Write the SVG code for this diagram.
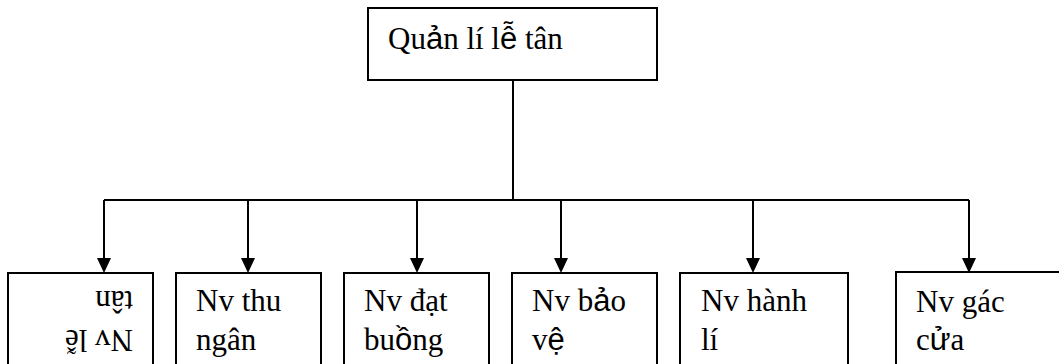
<svg xmlns="http://www.w3.org/2000/svg" width="1059" height="364" viewBox="0 0 1059 364">
  <style>
    .box { fill: #ffffff; stroke: #000000; stroke-width: 2; }
    .wire { fill: none; stroke: #000000; stroke-width: 2; }
  </style>
  <defs>
    <marker id="arrow" markerUnits="userSpaceOnUse" markerWidth="15" markerHeight="14" viewBox="0 0 15 14" refX="0" refY="7" orient="auto">
      <path d="M0,0 L15,7 L0,14 Z" fill="#000000"/>
    </marker>
  </defs>

  <rect width="1059" height="364" fill="#ffffff"/>

  <!-- connectors -->
  <g id="connectors" class="wire">
    <path d="M513,80 V200"/>
    <path d="M104,200 H969"/>
    <path d="M104,200 V258" marker-end="url(#arrow)"/>
    <path d="M248,200 V258" marker-end="url(#arrow)"/>
    <path d="M417,200 V258" marker-end="url(#arrow)"/>
    <path d="M561,200 V258" marker-end="url(#arrow)"/>
    <path d="M753,200 V258" marker-end="url(#arrow)"/>
    <path d="M969,200 V258" marker-end="url(#arrow)"/>
  </g>

  <!-- all labels share one serif face; a few accented letters use a sans face -->
  <g font-family="'Liberation Serif', Tinos, 'Times New Roman', 'DejaVu Serif', serif" font-size="31" fill="#000000">

    <g id="quan-li-le-tan">
      <rect class="box" x="368" y="8" width="289" height="72"/>
      <text x="388" y="49">Qu<tspan font-family="'Liberation Sans', Arial, sans-serif">ả</tspan>n lí l<tspan font-family="'Liberation Sans', Arial, sans-serif">ễ</tspan> tân</text>
    </g>

    <g id="nv-le-tan">
      <rect class="box" x="8" y="273" width="145" height="95"/>
      <g transform="rotate(180 80.5 320.5)">
        <text x="28" y="311">Nv lễ</text>
        <text x="28" y="350">tân</text>
      </g>
    </g>

    <g id="nv-thu-ngan">
      <rect class="box" x="176" y="273" width="145" height="95"/>
      <text x="196" y="311">Nv thu</text>
      <text x="196" y="350">ngân</text>
    </g>

    <g id="nv-dat-buong">
      <rect class="box" x="344" y="273" width="145" height="95"/>
      <text x="364" y="311">Nv đạt</text>
      <text x="364" y="350">bu<tspan font-family="'Liberation Sans', Arial, sans-serif">ồ</tspan>ng</text>
    </g>

    <g id="nv-bao-ve">
      <rect class="box" x="512" y="273" width="145" height="95"/>
      <text x="532" y="311">Nv b<tspan font-family="'Liberation Sans', Arial, sans-serif">ả</tspan>o</text>
      <text x="532" y="350">v<tspan font-family="'Liberation Sans', Arial, sans-serif">ệ</tspan></text>
    </g>

    <g id="nv-hanh-li">
      <rect class="box" x="680" y="273" width="168" height="95"/>
      <text x="701" y="311">Nv hành</text>
      <text x="701" y="350">lí</text>
    </g>

    <g id="nv-gac-cua">
      <rect class="box" x="896" y="272" width="170" height="96"/>
      <text x="916" y="312">Nv gác</text>
      <text x="916" y="350">c<tspan font-family="'Liberation Sans', Arial, sans-serif">ử</tspan>a</text>
    </g>
  </g>
</svg>
